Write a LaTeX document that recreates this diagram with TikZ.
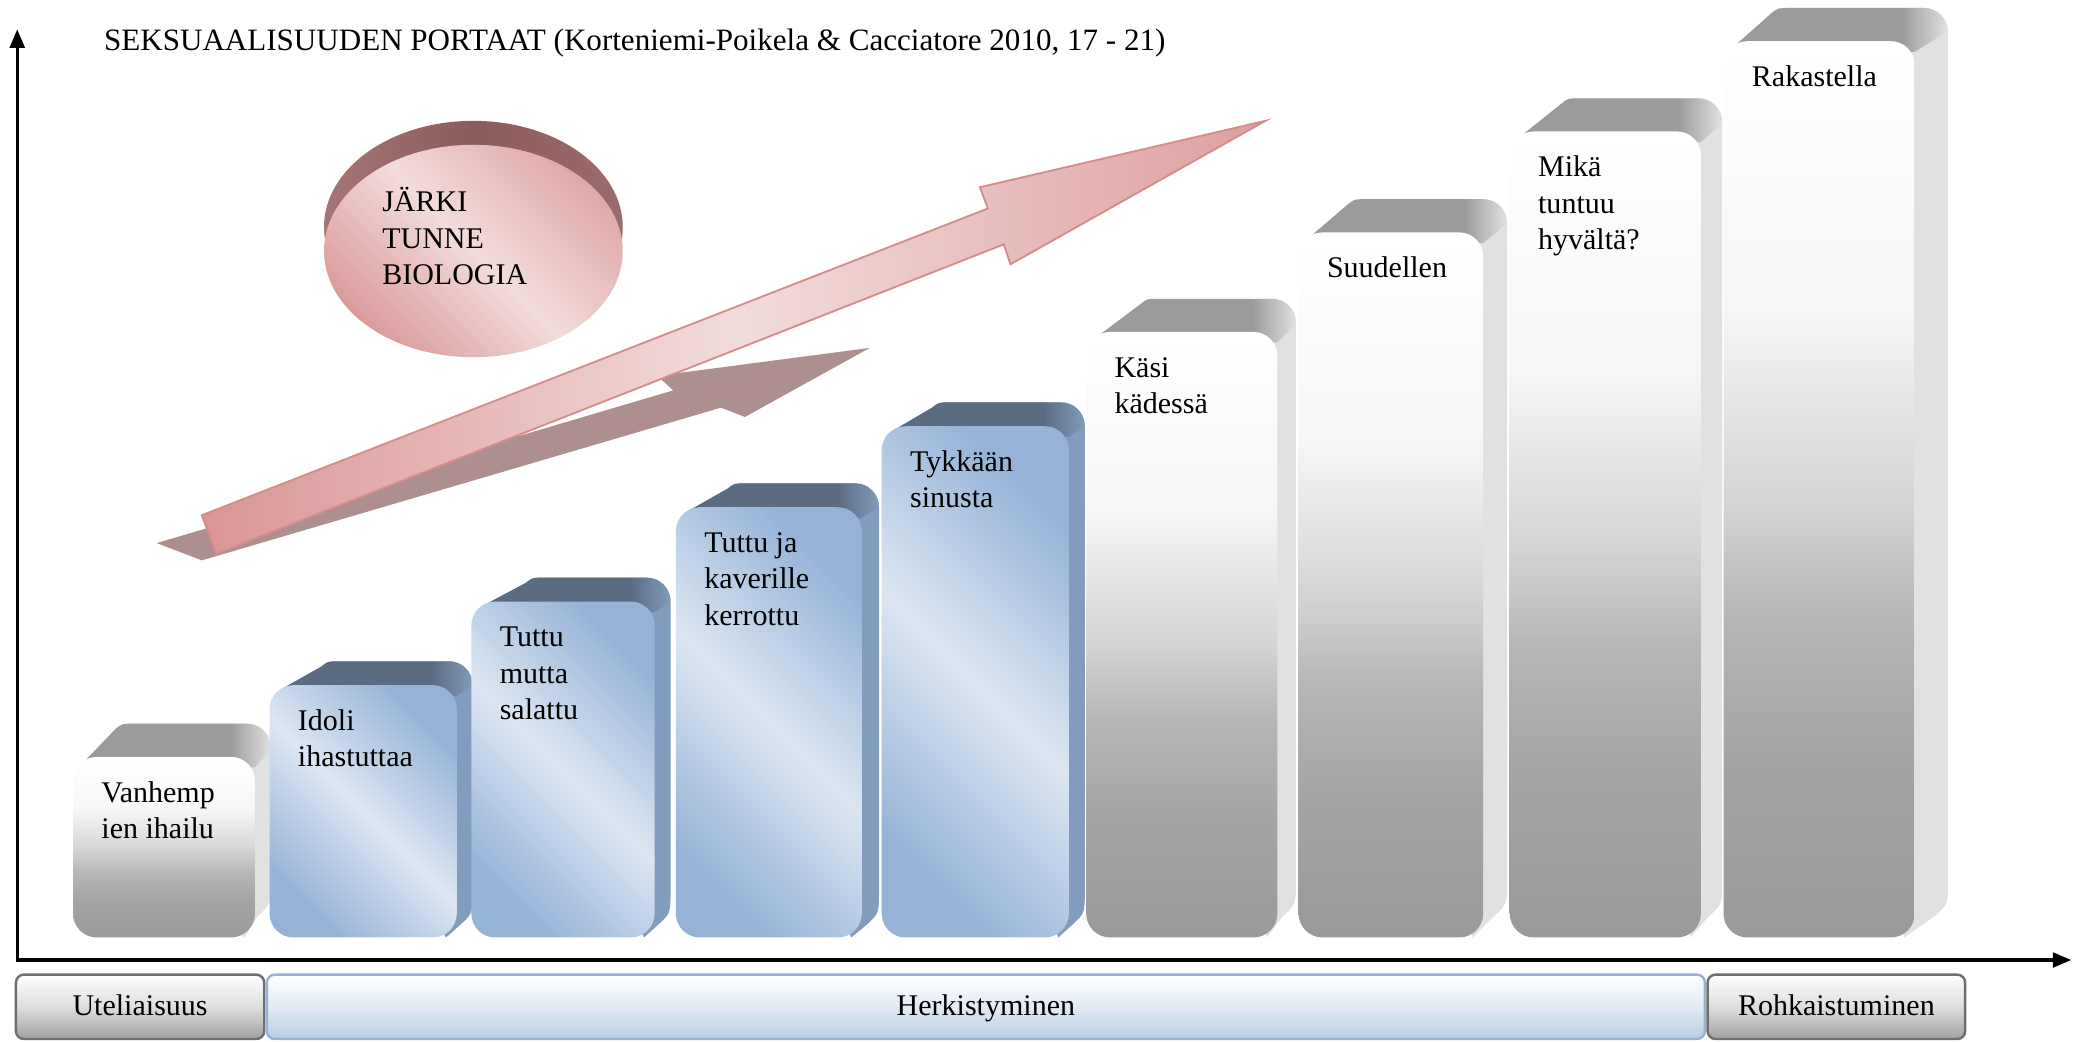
\documentclass[tikz,border=0pt]{standalone}
\usepackage{fontspec}
\setmainfont{Liberation Serif}
\usetikzlibrary{arrows.meta}

\definecolor{btop}{HTML}{5B6B82}
\definecolor{bside}{HTML}{819CBD}
\definecolor{blight}{HTML}{DCE6F2}
\definecolor{bdark}{HTML}{95B3D7}
\definecolor{gtop}{HTML}{9B9B9B}
\definecolor{gside}{HTML}{E1E1E1}
\definecolor{gA}{HTML}{9A9A9A}
\definecolor{gB}{HTML}{A4A4A4}
\definecolor{gC}{HTML}{B6B6B6}
\definecolor{gD}{HTML}{D3D3D3}
\definecolor{gE}{HTML}{F6F6F6}
\definecolor{pinkd}{HTML}{D99594}
\definecolor{pinkm}{HTML}{DCA09F}
\definecolor{pinkl}{HTML}{F2DCDB}
\definecolor{pinkline}{HTML}{D68C8B}
\definecolor{mauve}{HTML}{AE8F8F}
\definecolor{diskd}{HTML}{8B5C5C}
\definecolor{diskm}{HTML}{A67676}
\definecolor{diskr}{HTML}{9C6B6B}
\definecolor{diskfa}{HTML}{DFAAA9}
\definecolor{diskfb}{HTML}{D99C9B}
\definecolor{bandgray}{HTML}{A0A0A0}
\definecolor{bandgmid}{HTML}{DEDEDE}
\definecolor{bandline}{HTML}{6E6E6E}
\definecolor{bandblue}{HTML}{B8CCE4}
\definecolor{bandbmid}{HTML}{E2EAF4}
\definecolor{bandbline}{HTML}{95B3D7}

\pgfdeclarehorizontalshading{bluetopsh}{100bp}{color(0bp)=(btop); color(25bp)=(btop); color(64bp)=(btop); color(75bp)=(bside); color(100bp)=(bside)}
\pgfdeclarehorizontalshading{graytopsh}{100bp}{color(0bp)=(gtop); color(25bp)=(gtop); color(64bp)=(gtop); color(75bp)=(gside); color(100bp)=(gside)}
\pgfdeclareverticalshading{grayfrontsh}{100bp}{color(0bp)=(gA); color(25bp)=(gA); color(35bp)=(gB); color(43bp)=(gC); color(49bp)=(gD); color(60bp)=(gE); color(75bp)=(white); color(100bp)=(white)}

\tikzset{
  bluefront/.style={top color=bdark, bottom color=bdark, middle color=blight, shading angle=-45},
  grayfront/.style={shading=grayfrontsh},
  blueside/.style={fill=bside},
  grayside/.style={fill=gside},
  bluetop/.style={shading=bluetopsh},
  graytop/.style={shading=graytopsh},
  steptext/.style={inner sep=0pt, font=\rmfamily\fontsize{11.3pt}{13.75pt}\selectfont, text=black},
  axisline/.style={line width=1.25pt, line join=miter, {Triangle[length=7pt,width=5.5pt]}-{Triangle[length=7pt,width=5.5pt]}},
  phaseband/.style={rounded corners=3pt, line width=0.9pt},
}

% silhouette of the top and side faces of one step
% #1 L, #2 R, #3 T, #4 dxL, #5 dxR, #6 depth up
\newcommand\stairsil[6]{%
  (#1+9,#3+3) -- (#1+#4-6,#3-#6+4) .. controls (#1+#4-1,#3-#6) .. (#1+#4+8,#3-#6)
  -- (#2+#5-18,#3-#6) .. controls (#2+#5-8,#3-#6) and (#2+#5,#3-#6+8) .. (#2+#5,#3-#6+18)
  -- (#2+#5,706-#6-18) .. controls (#2+#5,706-#6) .. (#2+#5-10,706-#6+9)
  -- (#2-8,706) -- cycle}

% #1 kind, #2 L, #3 R, #4 T, #5 dxL, #6 dxR, #7 depth up, #8 name, #9 text
\newcommand\stairblk[9]{%
  \path[#1side] \stairsil{#2}{#3}{#4}{#5}{#6}{#7};
  \begin{scope}
    \clip (#2,#4-#7-4) -- (#3+#6+4,#4-#7-4) -- (#3+#6+4,#4-#7+15) -- (#3,#4+8) -- (#2,#4+8) -- cycle;
    \shade[#1top] \stairsil{#2}{#3}{#4}{#5}{#6}{#7};
  \end{scope}
  \shade[#1front, rounded corners=9pt] (#2,#4) rectangle (#3,706);
  \node[steptext, anchor=base west] (#8) at (#2+21,#4+34) {\begin{tabular}[t]{@{}l@{}}#9\end{tabular}};
}

\begin{document}
\begin{tikzpicture}[x=0.5pt, y=-0.5pt]
\fill[white] (0,0) rectangle (1568,784);
\useasboundingbox (0,0) rectangle (1568,784);

% title
\node[steptext, font=\rmfamily\fontsize{11.7pt}{14pt}\selectfont, anchor=base west] (title) at (78,38)
  {SEKSUAALISUUDEN PORTAAT (Korteniemi-Poikela \& Cacciatore 2010, 17 - 21)};

% axes
\coordinate (origin) at (13,723);
\coordinate (ytop) at (13,22);
\coordinate (xend) at (1560,723);
\draw[axisline] (ytop) -- (origin) -- (xend);

% disk
\shade[left color=diskm, right color=diskr, middle color=diskd] (356.5,171) ellipse [x radius=56.25pt, y radius=40pt];
\shade[top color=diskfa, bottom color=diskfb, middle color=pinkl, shading angle=-45] (356.5,189) ellipse [x radius=56.25pt, y radius=40pt];
\node[steptext, anchor=base west] (disktext) at (287.5,159.5) {\begin{tabular}[t]{@{}l@{}}JÄRKI\\TUNNE\\BIOLOGIA\end{tabular}};

% arrows
\fill[mauve] (118,409) -- (152,422) -- (543,307) -- (561,314) -- (655,262) -- (495,283) -- (507,294) -- cycle;
\shadedraw[left color=pinkd, right color=pinkm, middle color=pinkl, draw=pinkline, line width=0.7pt, line join=miter]
  (152,388) -- (744,157) -- (738,141) -- (953,91) -- (761,199) -- (756,184) -- (163,417) -- cycle;

% stairs
\stairblk{gray}{55}{192}{570}{38}{12}{25}{b1}{Vanhemp\\ien ihailu}
\stairblk{blue}{203}{344}{516}{45}{12}{18}{b2}{Idoli\\ihastuttaa}
\stairblk{blue}{355}{493}{453}{47}{12}{18}{b3}{Tuttu\\mutta\\salattu}
\stairblk{blue}{509}{649}{382}{45}{13}{18}{b4}{Tuttu ja\\kaverille\\kerrottu}
\stairblk{blue}{664}{805}{321}{44}{12}{18}{b5}{Tykkään\\sinusta}
\stairblk{gray}{818}{962}{250}{47}{14}{25}{b6}{Käsi\\kädessä}
\stairblk{gray}{978}{1117}{175}{43}{18}{25}{b7}{Suudellen}
\stairblk{gray}{1137}{1281}{99}{45}{16}{25}{b8}{Mikä\\tuntuu\\hyvältä?}
\stairblk{gray}{1298}{1442}{31}{42}{25}{25}{b9}{Rakastella}

% phase bands
\shadedraw[phaseband, top color=white, bottom color=bandgray, middle color=bandgmid, draw=bandline] (12,734) rectangle (199,782.5);
\shadedraw[phaseband, top color=white, bottom color=bandblue, middle color=bandbmid, draw=bandbline] (201,734) rectangle (1284,782.5);
\shadedraw[phaseband, top color=white, bottom color=bandgray, middle color=bandgmid, draw=bandline] (1286,734) rectangle (1480,782.5);
\node[steptext, anchor=base] (uteliaisuus) at (105.5,764.5) {Uteliaisuus};
\node[steptext, anchor=base] (herkistyminen) at (742.5,764.5) {Herkistyminen};
\node[steptext, anchor=base] (rohkaistuminen) at (1383,764.5) {Rohkaistuminen};
\end{tikzpicture}
\end{document}
